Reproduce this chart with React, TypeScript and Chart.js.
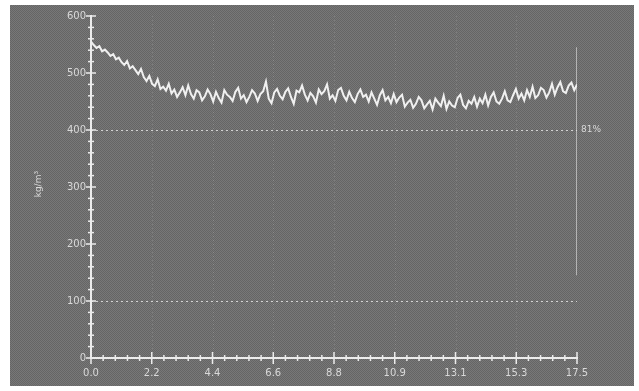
import React, { useEffect, useRef } from 'react';
import { Chart, registerables } from 'chart.js';

Chart.register(...registerables);

// position step along the board thickness (mm)
const xStep = 0.1;
// density values read from the profile, one every 0.1 mm from 0.0 to 17.5
const densityValues = [
  555, 549, 544, 547, 538, 541, 536, 530, 533, 524,
  527, 519, 514, 521, 508, 512, 505, 498, 507, 493,
  486, 495, 481, 477, 489, 472, 476, 469, 481, 464,
  471, 458, 466, 475, 461, 478, 463, 455, 470, 466,
  452, 459, 471, 463, 450, 467, 456, 448, 470, 462,
  458, 451, 467, 474, 455, 461, 449, 458, 470, 464,
  451, 463, 468, 485, 455, 447, 466, 472, 460, 454,
  467, 473, 458, 446, 469, 466, 478, 462, 452, 465,
  459, 448, 471, 463, 468, 480, 455, 461, 451, 470,
  474, 460, 452, 467, 456, 449, 463, 471, 458, 462,
  450, 466, 455, 444, 461, 470, 452, 458, 447, 463,
  449, 457, 462, 441, 448, 453, 439, 446, 458, 452,
  438, 445, 451, 436, 455, 448, 442, 460, 437, 450,
  443, 440, 456, 462, 444, 438, 451, 446, 458, 441,
  455, 447, 462, 443, 458, 466, 450, 446, 455, 468,
  452, 449, 461, 472, 455, 464, 452, 470, 458, 476,
  456, 461, 474, 470, 457, 466, 481, 462, 475, 484,
  468, 465, 478, 483, 470, 480,
];

const xMax = 17.5;
const yMax = 600;
const xTickLabels = ['0.0', '2.2', '4.4', '6.6', '8.8', '10.9', '13.1', '15.3', '17.5'];
const yTickLabels = ['0', '100', '200', '300', '400', '500', '600'];
const xMinorPerMajor = 5;
const yMinorStep = 20;
const edgeLineX = 17.5;
const edgeLineValues = [145, 545];
const refLines = [400, 100];
const refLabel = '81%';
const yTitle = 'kg/m³';

const LABEL_COLOR = '#d9d9d9';
const AXIS_COLOR = '#ececec';

const decorPlugin = {
  id: 'decor',
  beforeDraw(chart: any) {
    const { ctx, width, height } = chart;
    const pc = document.createElement('canvas');
    pc.width = 2;
    pc.height = 2;
    const p = pc.getContext('2d')!;
    p.fillStyle = '#656565';
    p.fillRect(0, 0, 2, 2);
    p.fillStyle = '#787878';
    p.fillRect(0, 0, 1, 1);
    p.fillRect(1, 1, 1, 1);
    const pattern = ctx.createPattern(pc, 'repeat');
    ctx.save();
    ctx.fillStyle = pattern || '#6e6e6e';
    ctx.fillRect(0, 0, width, height);
    ctx.restore();
  },
  beforeDatasetsDraw(chart: any) {
    const { ctx, chartArea } = chart;
    const xs = chart.scales.x;
    const ys = chart.scales.y;
    ctx.save();
    // faint vertical dotted grid at major x ticks
    ctx.strokeStyle = 'rgba(215,215,215,0.22)';
    ctx.lineWidth = 1;
    ctx.setLineDash([1, 3]);
    for (let i = 1; i < xTickLabels.length - 1; i++) {
      const v = (xMax / (xTickLabels.length - 1)) * i;
      const px = Math.round(xs.getPixelForValue(v)) + 0.5;
      ctx.beginPath();
      ctx.moveTo(px, chartArea.top);
      ctx.lineTo(px, chartArea.bottom);
      ctx.stroke();
    }
    // dotted reference lines
    ctx.strokeStyle = 'rgba(235,235,235,0.8)';
    ctx.setLineDash([2, 3]);
    refLines.forEach((v) => {
      const py = Math.round(ys.getPixelForValue(v)) + 0.5;
      ctx.beginPath();
      ctx.moveTo(chartArea.left, py);
      ctx.lineTo(xs.getPixelForValue(xMax), py);
      ctx.stroke();
    });
    ctx.restore();
  },
  afterDraw(chart: any) {
    const { ctx } = chart;
    const xs = chart.scales.x;
    const ys = chart.scales.y;
    ctx.save();
    ctx.strokeStyle = AXIS_COLOR;
    ctx.lineWidth = 1.5;
    // y ticks crossing the axis
    const y0 = xs.getPixelForValue(0);
    for (let v = 0; v <= yMax; v += yMinorStep) {
      const py = ys.getPixelForValue(v);
      const len = v % 100 === 0 ? 5 : 3;
      ctx.beginPath();
      ctx.moveTo(y0 - len, py);
      ctx.lineTo(y0 + len, py);
      ctx.stroke();
    }
    // x ticks crossing the axis
    const x0 = ys.getPixelForValue(0);
    const nMinor = (xTickLabels.length - 1) * xMinorPerMajor;
    for (let i = 0; i <= nMinor; i++) {
      const px = xs.getPixelForValue((xMax / nMinor) * i);
      const len = i % xMinorPerMajor === 0 ? 6 : 3;
      ctx.beginPath();
      ctx.moveTo(px, x0 - len);
      ctx.lineTo(px, x0 + len);
      ctx.stroke();
    }
    // label at the end of the reference line
    ctx.fillStyle = LABEL_COLOR;
    ctx.font = '9px "DejaVu Sans"';
    ctx.textAlign = 'left';
    ctx.textBaseline = 'middle';
    ctx.fillText(refLabel, xs.getPixelForValue(xMax) + 4, ys.getPixelForValue(refLines[0]));
    // y title
    ctx.translate(xs.left - 52, ys.getPixelForValue(305));
    ctx.rotate(-Math.PI / 2);
    ctx.textAlign = 'center';
    ctx.fillText(yTitle, 0, 0);
    ctx.restore();
  },
};

export default function App() {
  const canvasRef = useRef<HTMLCanvasElement | null>(null);

  useEffect(() => {
    document.body.style.margin = '0';
    const canvas = canvasRef.current;
    if (!canvas) return;
    const points = densityValues.map((v, i) => ({ x: Math.round(i * xStep * 10) / 10, y: v }));
    const edge = edgeLineValues.map((v) => ({ x: edgeLineX, y: v }));
    const chart = new Chart(canvas, {
      type: 'line',
      data: {
        datasets: [
          {
            data: points,
            borderColor: '#f0f0f0',
            borderWidth: 2,
            pointRadius: 0,
            tension: 0,
          },
          {
            data: edge,
            borderColor: 'rgba(235,235,235,0.75)',
            borderWidth: 1.5,
            pointRadius: 0,
          },
        ],
      },
      options: {
        animation: false,
        responsive: false,
        events: [],
        layout: { padding: { top: 10, right: 57, left: 0, bottom: 0 } },
        plugins: { legend: { display: false }, tooltip: { enabled: false } },
        scales: {
          x: {
            type: 'linear',
            min: 0,
            max: xMax,
            afterBuildTicks: (s: any) => {
              s.ticks = xTickLabels.map((_, i) => ({ value: (xMax / (xTickLabels.length - 1)) * i }));
            },
            afterFit: (s: any) => {
              s.height = 28;
            },
            ticks: {
              autoSkip: false,
              maxRotation: 0,
              padding: 9,
              color: LABEL_COLOR,
              font: { family: '"DejaVu Sans"', size: 10 },
              callback: (_v: any, i: number) => xTickLabels[i],
            },
            grid: { display: false, drawTicks: false },
            border: { display: true, color: AXIS_COLOR, width: 2 },
          },
          y: {
            type: 'linear',
            min: 0,
            max: yMax,
            afterBuildTicks: (s: any) => {
              s.ticks = yTickLabels.map((t) => ({ value: Number(t) }));
            },
            afterFit: (s: any) => {
              s.width = 81;
            },
            ticks: {
              autoSkip: false,
              padding: 5,
              color: LABEL_COLOR,
              font: { family: '"DejaVu Sans"', size: 10 },
              callback: (_v: any, i: number) => yTickLabels[i],
            },
            grid: { display: false, drawTicks: false },
            border: { display: true, color: AXIS_COLOR, width: 2 },
          },
        },
      },
      plugins: [decorPlugin],
    });
    return () => chart.destroy();
  }, []);

  return (
    <div style={{ width: 639, height: 391, background: '#ffffff', position: 'relative' }}>
      <div style={{ position: 'absolute', left: 10, top: 5, width: 624, height: 381 }}>
        <canvas ref={canvasRef} width={624} height={381} style={{ width: 624, height: 381 }} />
      </div>
    </div>
  );
}
